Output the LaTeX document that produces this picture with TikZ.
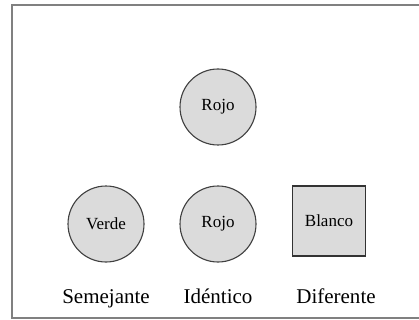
\documentclass[tikz,border=0pt]{standalone}
\usepackage{fontspec}
\setmainfont{Liberation Serif}
\usetikzlibrary{positioning}
\tikzset{
  muestra/.style={circle, draw=black!75, line width=1.1pt, fill=black!14,
    minimum size=76pt, inner sep=0pt, font=\fontsize{17}{17}\selectfont},
  cuadro/.style={rectangle, draw=black!80, line width=1.5pt, fill=black!14,
    minimum width=73pt, minimum height=70pt, inner sep=0pt,
    font=\fontsize{17}{17}\selectfont},
  etiqueta/.style={anchor=base, inner sep=0pt, font=\fontsize{21}{21}\selectfont}
}
\begin{document}
\begin{tikzpicture}[x=1pt,y=-1pt]
  \useasboundingbox (0,0) rectangle (419,320);
  \draw[black!50, line width=1.5pt] (430,5) -- (12,5) -- (12,318) -- (430,318);
  % muestra de referencia
  \node[muestra] (ref) at (218,107) {Rojo};
  % comparaciones
  \node[muestra] (verde) at (106,224) {Verde};
  \node[muestra] (rojo) at (218,224) {Rojo};
  \node[cuadro] (blanco) at (329,221) {Blanco};
  \foreach \x/\txt/\n in {106/Semejante/sem, 218/Idéntico/ide, 336/Diferente/dif} {
    \node[etiqueta] (\n) at (\x,303) {\txt}; }
\end{tikzpicture}
\end{document}
